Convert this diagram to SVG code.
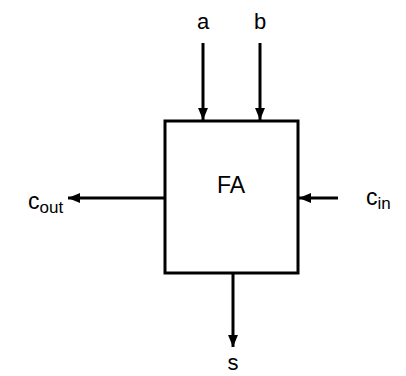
<svg xmlns="http://www.w3.org/2000/svg" width="406" height="376" viewBox="0 0 406 376">
<style>
.t{font-family:"Liberation Sans",Arial,sans-serif;fill:#000}
.w{stroke:#000;stroke-width:3;fill:none}
</style>
<defs>
<marker id="ah" viewBox="0 0 10 10" refX="10" refY="5" markerWidth="4" markerHeight="3.3" orient="auto" markerUnits="strokeWidth" preserveAspectRatio="none">
<path d="M0,0 L10,5 L0,10 z" fill="#000"/>
</marker>
</defs>
<rect width="406" height="376" fill="#fff"/>
<g id="connectors">
<line class="w" x1="203" y1="43" x2="203" y2="120" marker-end="url(#ah)"/>
<line class="w" x1="260" y1="43" x2="260" y2="120" marker-end="url(#ah)"/>
<line class="w" x1="165" y1="198" x2="68" y2="198" marker-end="url(#ah)"/>
<line class="w" x1="338" y1="198" x2="299" y2="198" marker-end="url(#ah)"/>
<line class="w" x1="233" y1="274" x2="233" y2="347" marker-end="url(#ah)"/>
</g>
<g id="FA">
<rect class="w" x="165" y="121" width="133" height="152"/>
<text class="t" x="231" y="193" font-size="23" text-anchor="middle">FA</text>
</g>
<g id="a"><text class="t" x="203" y="29" font-size="22" text-anchor="middle">a</text></g>
<g id="b"><text class="t" x="260" y="29" font-size="22" text-anchor="middle">b</text></g>
<g id="cout"><text class="t" x="28" y="209" font-size="23">c<tspan font-size="17" dy="4">out</tspan></text></g>
<g id="cin"><text class="t" x="366" y="205" font-size="23">c<tspan font-size="17" dy="4">in</tspan></text></g>
<g id="s"><text class="t" x="233" y="370" font-size="22" text-anchor="middle">s</text></g>
</svg>
